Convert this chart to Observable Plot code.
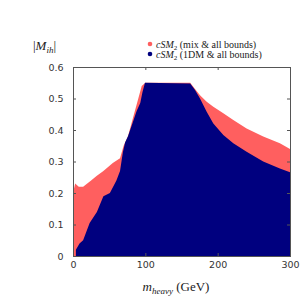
<!DOCTYPE html>
<html><head><meta charset="utf-8">
<script src="https://cdn.jsdelivr.net/npm/d3@7"></script>
<script src="https://cdn.jsdelivr.net/npm/@observablehq/plot@0.6"></script>
<style>body{margin:0;background:#fff;overflow:hidden}</style>
</head><body><div id="chart"></div>
<script>
// Upper envelope of the "mix & all bounds" scan (m_heavy in GeV, |M_ih|)
const mixMass = [0, 3, 8, 14, 25, 33, 42, 55, 65, 70, 76, 95, 100, 162, 168.7, 175.6, 184.8, 194, 207.8, 221.6, 240, 263, 286, 300];
const mixTop  = [0.20, 0.23, 0.22, 0.22, 0.24, 0.255, 0.27, 0.295, 0.31, 0.35, 0.38, 0.54, 0.55, 0.55, 0.53, 0.51, 0.49, 0.474, 0.453, 0.432, 0.405, 0.379, 0.358, 0.34];
// Upper envelope of the "1DM & all bounds" scan
const dmMass = [4, 9, 14, 23, 33, 42, 51, 60, 65, 69, 72, 76, 82, 88, 93, 96, 99.5, 162, 168.7, 175.6, 184.8, 194, 207.8, 221.6, 240, 263, 286, 300];
const dmTop  = [0.02, 0.04, 0.05, 0.105, 0.14, 0.19, 0.20, 0.24, 0.27, 0.33, 0.36, 0.38, 0.42, 0.46, 0.486, 0.52, 0.55, 0.548, 0.527, 0.50, 0.458, 0.421, 0.384, 0.358, 0.331, 0.30, 0.278, 0.266];
const xTicks = [0, 100, 200, 300];
const yTicks = [0, 0.1, 0.2, 0.3, 0.4, 0.5, 0.6];
const seriesLabels = ["(mix & all bounds)", "(1DM & all bounds)"];
const seriesColors = ["#ff5f5f", "#00007f"];

const mix = mixMass.map((m, i) => ({m, top: mixTop[i]}));
const dm = dmMass.map((m, i) => ({m, top: dmTop[i]}));

const W = 302, H = 296, mL = 73, mR = 12, mT = 67, mB = 40;
const fw = W - mL - mR, fh = H - mT - mB;

const plot = Plot.plot({
  width: W, height: H,
  marginLeft: mL, marginRight: mR, marginTop: mT, marginBottom: mB,
  x: {domain: [0, 300]},
  y: {domain: [0, 0.6]},
  style: {fontFamily: "DejaVu Sans", fontSize: "9.5px", color: "#333", background: "#fff"},
  marks: [
    Plot.areaY(mix, {x: "m", y1: 0, y2: "top", fill: seriesColors[0]}),
    Plot.areaY(dm, {x: "m", y1: 0, y2: "top", fill: seriesColors[1]}),
    Plot.tickX(xTicks, {x: d => d, insetTop: fh - 3, stroke: "#555"}),
    Plot.tickX(xTicks, {x: d => d, insetBottom: fh - 3, stroke: "#555"}),
    Plot.tickY(yTicks, {y: d => d, insetRight: fw - 3, stroke: "#555"}),
    Plot.tickY(yTicks, {y: d => d, insetLeft: fw - 3, stroke: "#555"}),
    Plot.frame({stroke: "#555"}),
    Plot.axisX({ticks: xTicks, tickSize: 0, tickPadding: 5, label: null, tickFormat: d => String(d)}),
    Plot.axisY({ticks: yTicks, tickSize: 0, tickPadding: 10, label: null, tickFormat: d => d === 0 ? "0" : d.toFixed(1)})
  ]
});
document.getElementById("chart").appendChild(plot);

const svg = d3.select(plot);
const serif = "Liberation Serif";

// y label |M_ih|
const yl = svg.append("text").attr("x", 33).attr("y", 50).attr("text-anchor", "start")
  .attr("font-family", serif).attr("font-size", 13).attr("fill", "#222");
yl.append("tspan").text("|");
yl.append("tspan").attr("font-style", "italic").text("M");
yl.append("tspan").attr("font-style", "italic").attr("font-size", 9).attr("dy", 3).text("ih");
yl.append("tspan").attr("dy", -3).text("|");

// x label m_heavy (GeV)
const xl = svg.append("text").attr("x", 176).attr("y", 291).attr("text-anchor", "middle")
  .attr("font-family", serif).attr("font-size", 13).attr("fill", "#222");
xl.append("tspan").attr("font-style", "italic").text("m");
xl.append("tspan").attr("font-style", "italic").attr("font-size", 9).attr("dy", 3).text("heavy");
xl.append("tspan").attr("dy", -3).text(" (GeV)");

// legend
seriesLabels.forEach((lab, i) => {
  const y = 44 + i * 10;
  svg.append("circle").attr("cx", 150).attr("cy", y).attr("r", 2.3).attr("fill", seriesColors[i]);
  const t = svg.append("text").attr("x", 156).attr("y", y + 3.5).attr("text-anchor", "start")
    .attr("font-family", serif).attr("font-size", 10).attr("fill", "#222");
  t.append("tspan").attr("font-style", "italic").text("cSM");
  t.append("tspan").attr("font-size", 7).attr("dy", 2).text("2");
  t.append("tspan").attr("dy", -2).text(" " + lab);
});
</script>
</body></html>
